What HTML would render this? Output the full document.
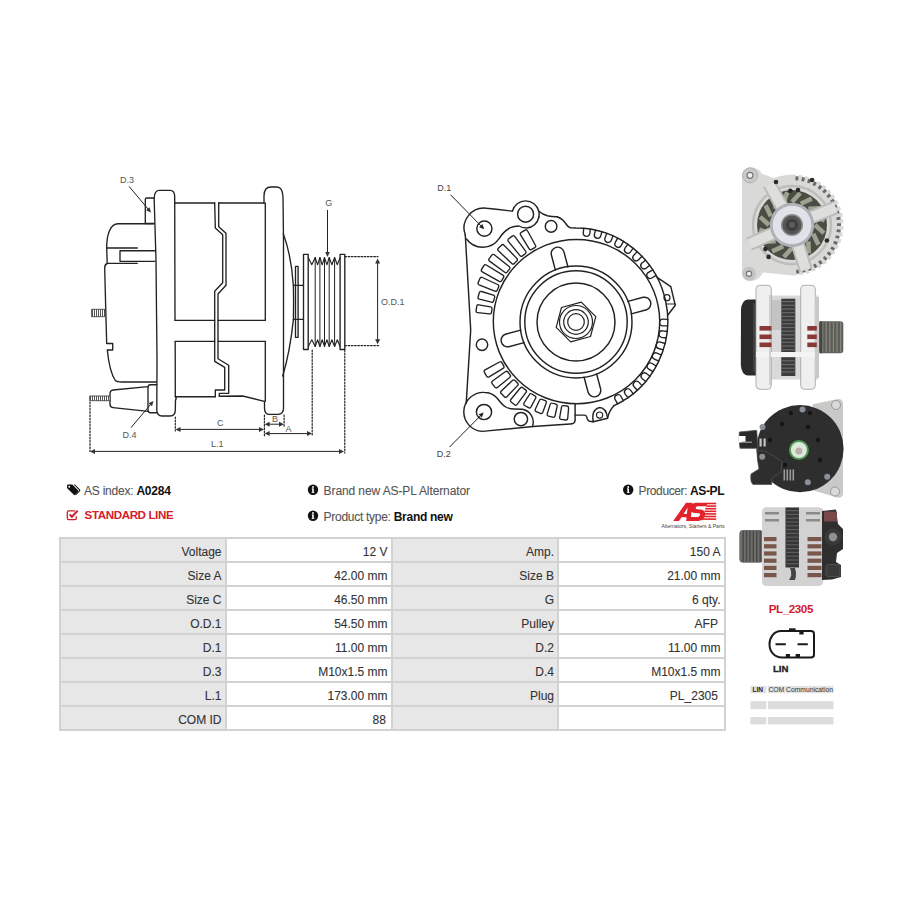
<!DOCTYPE html>
<html><head><meta charset="utf-8"><style>
html,body{margin:0;padding:0;background:#fff;width:900px;height:900px;overflow:hidden;position:relative;font-family:"Liberation Sans",sans-serif}
.c{position:absolute;box-sizing:border-box;text-align:right;padding-right:3px;padding-top:1.5px;font-size:12px;line-height:22px;color:#333;white-space:nowrap;-webkit-text-stroke:0.1px #333}
.t{position:absolute;white-space:nowrap;font-size:12px;line-height:14px;color:#555;letter-spacing:-0.15px;-webkit-text-stroke:0.1px currentColor}
.t b{-webkit-text-stroke:0}
.t b{color:#111}
</style></head><body>
<svg width="900" height="900" viewBox="0 0 900 900" style="position:absolute;left:0;top:0">
<defs><pattern id="hatch" width="2" height="4" patternUnits="userSpaceOnUse"><rect width="2" height="4" fill="#fff"/><rect width="1" height="4" fill="#555"/></pattern></defs>
<g fill="none" stroke="#222" stroke-linecap="round" stroke-linejoin="round" font-family="Liberation Sans, sans-serif">
<path d="M153.5,223.7 L118,223.7 C110,223.7 106.7,235 106.7,247.5 L107.2,263.5 Q104.7,264.5 104.7,268 L105.5,300 L106.7,343.5 L112.7,343.5 L112.7,350 L107.3,350 C108.5,362 111,374 115.3,380.5 Q117,382 122,382 L156.5,382" stroke-width="1.35" />
<path d="M107,248 L137.3,248 M107.3,263.3 L137.3,263.3" stroke-width="1.35" />
<path d="M155,250.7 L120,250.7 L120,261.3 L155,261.3" stroke-width="1.35" />
<path d="M154,223.5 L145.3,223.5 L145.3,199.5 Q145.3,198 147,198 L154.5,198" stroke-width="1.35" />
<path d="M148,386.7 L113,390 Q110,390.5 110,394 L110,404 Q110,407.3 113,407.6 L148,411.3 M156.7,384.7 L150.5,384.7 Q148,384.7 148,387.5 L148,410 Q148,412.7 150.5,412.7 L156.7,412.7" stroke-width="1.35" />
<rect x="90" y="396" width="20" height="4.7" fill="url(#hatch)" stroke="#333" stroke-width="0.8"/>
<rect x="92" y="309.3" width="12.7" height="7.4" fill="url(#hatch)" stroke="#333" stroke-width="0.8"/>
<path d="M159,190.4 L170,190.4 Q174.7,190.4 174.7,197 L175,320.3 M175.2,341.3 L175.3,396.7 Q177,398 175.5,400 L175.3,410 Q175.3,416 170,416 L162,416 Q157,416 156.8,410 L157,360 L156,260 L154.2,200 Q154,190.4 159,190.4" stroke-width="1.35" />
<path d="M174.7,203 L214.7,203 M218.7,203 L264,203" stroke-width="1.35" />
<path d="M175,320.3 L214.7,320.3 M218,320.3 L265.3,320.3" stroke-width="1.35" />
<path d="M175.2,341.3 L214.7,341.3 M218,341.3 L265.3,341.3" stroke-width="1.35" />
<path d="M175.3,396.7 L215.3,396.7 M219.3,396.2 L242.7,396 L264.3,401.3" stroke-width="1.35" />
<path d="M214.7,203 L215.3,228 L222.7,234.7 L222.7,282.7 L214.7,291.3 L214.7,361.3 L224.7,367.3 L224.7,390 L215.3,390 L215.3,396.7" stroke-width="1.35" />
<path d="M218.7,203 L218.7,226.7 L226,233.3 L226,285.3 L218,294 L218,358.7 L228.7,365.3 L228.7,393.3 L219.3,393.3 L219.3,396.2" stroke-width="1.35" />
<path d="M264,203 L264,196 Q264,187 271,187 L277,187 Q282.5,187 283,197 L283.5,240 L283.5,408 Q283.5,414.3 278,414.3 L269,414.3 Q264.5,414.3 264.5,408 L264.5,401.3 M265.3,341.3 L265.3,401.3 M265.3,203 L265.3,320.3" stroke-width="1.35" />
<path d="M283.3,233.7 Q291.5,256 293.4,286 L293.6,302 L293.4,319.4 Q290,352 282.7,376" stroke-width="1.35" />
<path d="M295.5,337.3 L295.5,266.3 L298.1,266.3 L298.1,337.3 Z" stroke-width="1.35" />
<path d="M293.4,285.4 L303.5,285.4 M293.4,319.4 L303.5,319.4" stroke-width="1.35" />
<path d="M303.5,254.3 L308.2,254.3 L308.2,349.5 L303.5,349.5 Z" stroke-width="1.35" />
<path d="M340.1,254.3 L344.8,254.3 L344.8,349.5 L340.1,349.5 Z" stroke-width="1.35" />
<path d="M308.2,257.5 L311.8,264.8 L315.2,257.5 L317.6,264.8 L319.9,257.5 L322.2,264.8 L324.5,257.5 L326.9,264.8 L329.2,257.5 L331.9,264.8 L334.6,257.5 L337.3,264.8 L340.1,257.5" stroke-width="1.1" />
<path d="M308.2,346.5 L311.8,339.8 L315.2,346.5 L317.6,339.8 L319.9,346.5 L322.2,339.8 L324.5,346.5 L326.9,339.8 L329.2,346.5 L331.9,339.8 L334.6,346.5 L337.3,339.8 L340.1,346.5" stroke-width="1.1" />
<path d="M315.2,257.5 L315.2,346.5" stroke-width="1.0" />
<path d="M319.9,257.5 L319.9,346.5" stroke-width="1.0" />
<path d="M324.5,257.5 L324.5,346.5" stroke-width="1.0" />
<path d="M329.2,257.5 L329.2,346.5" stroke-width="1.0" />
<path d="M334.6,257.5 L334.6,346.5" stroke-width="1.0" />
<path d="M90,402 L90,453" stroke-width="1.2" stroke-dasharray="1.6 1.6"/>
<path d="M344.8,350 L344.8,453" stroke-width="1.2" stroke-dasharray="1.6 1.6"/>
<path d="M175.3,417 L175.3,431" stroke-width="1.2" stroke-dasharray="1.6 1.6"/>
<path d="M264.4,415 L264.4,436" stroke-width="1.2" stroke-dasharray="1.6 1.6"/>
<path d="M284.1,415 L284.1,427" stroke-width="1.2" stroke-dasharray="1.6 1.6"/>
<path d="M312.2,350 L312.2,436" stroke-width="1.2" stroke-dasharray="1.6 1.6"/>
<path d="M345,256.7 L378,256.7" stroke-width="1.2" stroke-dasharray="1.6 1.6"/>
<path d="M345,345.6 L380,345.6" stroke-width="1.2" stroke-dasharray="1.6 1.6"/>
<path d="M94.0,451.4 L340.0,451.4" stroke-width="1.0" />
<path d="M90.0,451.4 L95.0,448.9 L95.0,453.9 Z" fill="#333" stroke="none"/>
<path d="M344.0,451.4 L339.0,448.9 L339.0,453.9 Z" fill="#333" stroke="none"/>
<path d="M179.5,429.4 L260.0,429.4" stroke-width="1.0" />
<path d="M175.5,429.4 L180.5,426.9 L180.5,431.9 Z" fill="#333" stroke="none"/>
<path d="M264.0,429.4 L259.0,426.9 L259.0,431.9 Z" fill="#333" stroke="none"/>
<path d="M268.6,424.2 L280.0,424.2" stroke-width="1.0" />
<path d="M264.6,424.2 L269.6,421.7 L269.6,426.7 Z" fill="#333" stroke="none"/>
<path d="M284.0,424.2 L279.0,421.7 L279.0,426.7 Z" fill="#333" stroke="none"/>
<path d="M268.6,433.6 L308.0,433.6" stroke-width="1.0" />
<path d="M264.6,433.6 L269.6,431.1 L269.6,436.1 Z" fill="#333" stroke="none"/>
<path d="M312.0,433.6 L307.0,431.1 L307.0,436.1 Z" fill="#333" stroke="none"/>
<path d="M377.6,262.5 L377.6,340.2" stroke-width="1.0" />
<path d="M377.6,258.5 L375.1,263.5 L380.1,263.5 Z" fill="#333" stroke="none"/>
<path d="M377.6,344.2 L375.1,339.2 L380.1,339.2 Z" fill="#333" stroke="none"/>
<path d="M327.5,210.3 L327.5,252.0" stroke-width="1.0" />
<path d="M327.5,257.0 L325.2,252.0 L329.8,252.0 Z" fill="#333" stroke="none"/>
<path d="M129.3,186.7 L147.8,208.7" stroke-width="1.0" />
<path d="M151.0,212.5 L146.0,210.2 L149.5,207.2 Z" fill="#333" stroke="none"/>
<path d="M131.3,427.3 L150.3,404.8" stroke-width="1.0" />
<path d="M153.5,401.0 L152.0,406.3 L148.5,403.3 Z" fill="#333" stroke="none"/>
<text x="120" y="182.7" font-size="9" fill="#555" stroke="none">D.3</text>
<text x="122.4" y="438" font-size="9" fill="#555" stroke="none">D.4</text>
<text x="325.2" y="206.4" font-size="9" fill="#555" stroke="none">G</text>
<text x="381" y="304.7" font-size="9" fill="#555" stroke="none">O.D.1</text>
<text x="217" y="426.4" font-size="9" fill="#555" stroke="none">C</text>
<text x="272" y="422" font-size="9" fill="#555" stroke="none">B</text>
<text x="285.6" y="432" font-size="9" fill="#555" stroke="none">A</text>
<text x="211" y="447" font-size="9" fill="#555" stroke="none">L.1</text>
<ellipse cx="576.5" cy="321.6" rx="83.2" ry="82.2" stroke-width="1.45"/>
<circle cx="576.0" cy="322.0" r="56.0" stroke-width="1.45"/>
<circle cx="576.0" cy="322.0" r="51.2" stroke-width="1.45"/>
<circle cx="576.0" cy="322.0" r="39.0" stroke-width="1.45"/>
<circle cx="576.0" cy="322.0" r="16.5" stroke-width="1.2"/>
<circle cx="576.0" cy="322.0" r="12.3" stroke-width="1.2"/>
<circle cx="576.0" cy="322.0" r="8.3" stroke-width="1.2"/>
<path d="M595.8,316.7 L590.5,336.5 L570.7,341.8 L556.2,327.3 L561.5,307.5 L581.3,302.2 Z" stroke-width="1.2" />
<path d="M567.9,266.7 L563.8,251.4 A6.5,6.5 0 0 0 551.3,254.8 L555.4,270.1" stroke-width="1.45" />
<path d="M631.3,313.9 L646.6,309.8 A6.5,6.5 0 0 0 643.2,297.3 L627.9,301.4" stroke-width="1.45" />
<path d="M584.1,377.3 L588.2,392.6 A6.5,6.5 0 0 0 600.7,389.2 L596.6,373.9" stroke-width="1.45" />
<path d="M520.7,330.1 L505.4,334.2 A6.5,6.5 0 0 0 508.8,346.7 L524.1,342.6" stroke-width="1.45" />
<path d="M490.5,306.8 L478.7,304.8 Q476.9,304.6 476.7,306.4 L476.1,310.7 Q475.9,312.5 477.7,312.7 L489.5,313.9 Q491.3,314.2 491.5,312.4 L492.0,308.8 Q492.2,307.0 490.5,306.8 Z" stroke-width="1.35" />
<path d="M493.4,295.2 L481.5,291.5 Q479.8,291.0 479.3,292.7 L478.1,297.0 Q477.6,298.7 479.4,299.2 L491.4,302.1 Q493.2,302.6 493.6,300.9 L494.6,297.4 Q495.1,295.7 493.4,295.2 Z" stroke-width="1.35" />
<path d="M497.6,284.5 L482.3,277.5 Q480.6,276.8 479.9,278.4 L478.2,282.5 Q477.5,284.1 479.1,284.8 L494.8,291.1 Q496.5,291.8 497.2,290.2 L498.6,286.9 Q499.3,285.2 497.6,284.5 Z" stroke-width="1.35" />
<path d="M502.9,275.1 L486.3,265.0 Q484.8,264.1 483.9,265.6 L481.6,269.4 Q480.7,271.0 482.3,271.9 L499.2,281.3 Q500.8,282.2 501.7,280.7 L503.5,277.6 Q504.4,276.0 502.9,275.1 Z" stroke-width="1.35" />
<path d="M509.1,266.5 L494.3,254.8 Q492.9,253.7 491.8,255.1 L489.2,258.6 Q488.1,260.0 489.5,261.1 L504.8,272.3 Q506.2,273.4 507.3,271.9 L509.5,269.1 Q510.6,267.6 509.1,266.5 Z" stroke-width="1.35" />
<path d="M516.8,258.4 L504.0,245.2 Q502.8,243.9 501.5,245.2 L498.4,248.3 Q497.1,249.6 498.4,250.8 L511.8,263.5 Q513.0,264.8 514.3,263.5 L516.8,260.9 Q518.1,259.7 516.8,258.4 Z" stroke-width="1.35" />
<path d="M525.6,251.2 L514.7,236.4 Q513.6,235.0 512.2,236.1 L508.7,238.8 Q507.3,239.9 508.4,241.3 L520.0,255.6 Q521.1,257.0 522.5,255.9 L525.3,253.7 Q526.7,252.6 525.6,251.2 Z" stroke-width="1.35" />
<path d="M535.4,245.2 L527.5,230.8 Q526.6,229.2 525.1,230.1 L521.3,232.4 Q519.7,233.3 520.6,234.8 L529.2,248.8 Q530.1,250.3 531.7,249.4 L534.8,247.6 Q536.4,246.7 535.4,245.2 Z" stroke-width="1.35" />
<path d="M499.5,362.0 L485.1,369.9 Q483.5,370.8 484.4,372.3 L486.6,376.2 Q487.5,377.7 489.1,376.8 L503.1,368.3 Q504.6,367.4 503.7,365.8 L501.9,362.7 Q501.0,361.1 499.5,362.0 Z" stroke-width="1.35" />
<path d="M505.3,371.7 L492.5,381.0 Q491.1,382.1 492.2,383.6 L494.8,387.1 Q495.9,388.5 497.4,387.4 L509.7,377.4 Q511.2,376.3 510.1,374.9 L507.9,372.0 Q506.8,370.6 505.3,371.7 Z" stroke-width="1.35" />
<path d="M512.4,380.5 L501.3,391.1 Q500.0,392.4 501.3,393.6 L504.4,396.7 Q505.6,398.0 506.9,396.7 L517.5,385.6 Q518.8,384.3 517.5,383.0 L515.0,380.5 Q513.7,379.2 512.4,380.5 Z" stroke-width="1.35" />
<path d="M520.3,388.0 L510.8,399.5 Q509.7,400.9 511.1,402.0 L514.6,404.7 Q516.0,405.8 517.1,404.4 L526.0,392.4 Q527.1,391.0 525.6,389.9 L522.8,387.7 Q521.4,386.6 520.3,388.0 Z" stroke-width="1.35" />
<path d="M529.4,394.7 L524.0,403.0 Q523.1,404.6 524.7,405.5 L528.5,407.7 Q530.0,408.6 530.9,407.1 L535.6,398.3 Q536.5,396.8 534.9,395.9 L531.8,394.0 Q530.3,393.1 529.4,394.7 Z" stroke-width="1.35" />
<path d="M539.5,400.3 L535.3,409.3 Q534.6,410.9 536.3,411.6 L540.4,413.3 Q542.0,414.0 542.7,412.4 L546.2,403.1 Q546.9,401.4 545.2,400.7 L541.9,399.3 Q540.2,398.6 539.5,400.3 Z" stroke-width="1.35" />
<path d="M550.2,404.4 L547.2,413.9 Q546.8,415.6 548.5,416.1 L552.8,417.2 Q554.5,417.7 555.0,416.0 L557.1,406.3 Q557.6,404.6 555.9,404.1 L552.4,403.2 Q550.7,402.7 550.2,404.4 Z" stroke-width="1.35" />
<path d="M561.5,407.1 L559.7,417.4 Q559.5,419.2 561.3,419.4 L565.7,420.0 Q567.5,420.2 567.7,418.4 L568.6,408.1 Q568.8,406.3 567.0,406.0 L563.5,405.6 Q561.7,405.4 561.5,407.1 Z" stroke-width="1.35" />
<path d="M590.3,229.1 L589.7,233.9 A3.3,3.3 0 0 1 583.2,233.1 L583.8,228.3" stroke-width="1.35" />
<path d="M601.9,231.7 L600.6,236.4 A3.3,3.3 0 0 1 594.3,234.8 L595.5,230.1" stroke-width="1.35" />
<path d="M613.0,235.8 L611.2,240.4 A3.3,3.3 0 0 1 605.0,237.9 L606.8,233.4" stroke-width="1.35" />
<path d="M623.5,241.3 L621.1,245.6 A3.3,3.3 0 0 1 615.3,242.4 L617.7,238.1" stroke-width="1.35" />
<path d="M633.2,248.2 L630.3,252.1 A3.3,3.3 0 0 1 625.0,248.2 L627.9,244.2" stroke-width="1.35" />
<path d="M642.0,256.2 L638.6,259.8 A3.3,3.3 0 0 1 633.8,255.2 L637.2,251.6" stroke-width="1.35" />
<path d="M649.6,265.3 L645.8,268.4 A3.3,3.3 0 0 1 641.7,263.3 L645.5,260.2" stroke-width="1.35" />
<path d="M656.1,275.4 L651.9,278.0 A3.3,3.3 0 0 1 648.5,272.3 L652.7,269.8" stroke-width="1.35" />
<path d="M667.7,325.9 L662.8,325.8 A3.3,3.3 0 0 1 662.9,319.2 L667.8,319.3" stroke-width="1.35" />
<path d="M666.3,338.0 L661.5,337.3 A3.3,3.3 0 0 1 662.4,330.8 L667.3,331.5" stroke-width="1.35" />
<path d="M663.3,349.8 L658.6,348.5 A3.3,3.3 0 0 1 660.4,342.1 L665.2,343.5" stroke-width="1.35" />
<path d="M658.9,361.1 L654.4,359.2 A3.3,3.3 0 0 1 657.0,353.1 L661.5,355.1" stroke-width="1.35" />
<path d="M653.0,371.7 L648.8,369.2 A3.3,3.3 0 0 1 652.2,363.5 L656.4,366.1" stroke-width="1.35" />
<path d="M645.8,381.5 L642.0,378.4 A3.3,3.3 0 0 1 646.1,373.3 L649.9,376.3" stroke-width="1.35" />
<path d="M637.4,390.2 L634.0,386.7 A3.3,3.3 0 0 1 638.7,382.1 L642.1,385.6" stroke-width="1.35" />
<path d="M628.0,397.7 L625.0,393.8 A3.3,3.3 0 0 1 630.3,389.9 L633.3,393.8" stroke-width="1.35" />
<path d="M617.6,403.9 L615.2,399.7 A3.3,3.3 0 0 1 621.0,396.5 L623.4,400.7" stroke-width="1.35" />
<path d="M557.1,216.7 Q563,219 566,224 Q568,227 570.4,227.8 L576.0,228.0 A91.8,93.0 0 0 1 614.1,405.6" stroke-width="1.45" />
<path d="M657.1,277.3 L670.8,286.7 L675.3,305.3 L667.7,315.3" stroke-width="1.45" />
<path d="M666.7,304 L675.3,304" stroke-width="1.2" />
<circle cx="667.0" cy="297.7" r="3.0" stroke-width="1.2"/>
<path d="M614.1,405.6 Q609,411 607.6,418.2 L593.3,421.8 L589.3,421.3 Q587,420 586.7,417 Q586.5,415.1 584,415.1 L575.1,415.1" stroke-width="1.45" />
<path d="M593.3,421.8 Q591,410 599.1,407.6 Q606,407.5 607.6,418" stroke-width="1.45" />
<circle cx="599.6" cy="415.1" r="3.1" stroke-width="1.2"/>
<path d="M575.1,404 L575.1,420.9 Q574.5,424 570.2,424 L533,426.5 L482.2,431.4" stroke-width="1.45" />
<path d="M482.2,431.4 A19.4,19.4 0 0 1 484.5,392.4 Q492,392.4 497,398 Q501.5,404 505,406.5 Q508,408.8 514,409 L522.2,409.3 A13,13 0 0 1 532.5,426.4" stroke-width="1.45" />
<circle cx="484.0" cy="412.0" r="7.6" stroke-width="1.45"/>
<circle cx="520.9" cy="419.1" r="6.7" stroke-width="1.45"/>
<path d="M466.2,403.6 L470.7,330 L465.3,235" stroke-width="1.45" />
<circle cx="482.0" cy="344.7" r="5.7" stroke-width="1.45"/>
<path d="M465.3,235 A20,20 0 0 1 486.7,208.3 Q500,209.5 512.4,211.2 A13.6,13.6 0 0 1 538.8,211.2 Q543,214.5 547.3,215.8 Q552,216.8 557.1,216.7" stroke-width="1.45" />
<path d="M538.8,211.2 A13.6,13.6 0 0 1 538.9,217" stroke-width="1.45" />
<path d="M466.5,239 A20,20 0 0 0 499.1,238.6 Q503,232 509.8,227.9 Q514,226 518.9,226 Q522,228 527,228 A13.6,13.6 0 0 0 538.9,217" stroke-width="1.45" />
<circle cx="484.4" cy="228.6" r="7.6" stroke-width="1.45"/>
<circle cx="525.6" cy="214.2" r="8.0" stroke-width="1.45"/>
<circle cx="551.1" cy="226.4" r="5.8" stroke-width="1.45"/>
<path d="M450.8,195.0 L480.7,225.6" stroke-width="1.0" />
<path d="M484.2,229.2 L479.1,227.2 L482.4,224.0 Z" fill="#222" stroke="none"/>
<path d="M449.9,446.7 L480.2,416.0" stroke-width="1.0" />
<path d="M483.7,412.4 L481.8,417.6 L478.6,414.3 Z" fill="#222" stroke="none"/>
<text x="437.3" y="190.8" font-size="9" fill="#444" stroke="none">D.1</text>
<text x="436.7" y="456.8" font-size="9" fill="#444" stroke="none">D.2</text>
</g>
</svg>
<svg width="900" height="900" viewBox="0 0 900 900" style="position:absolute;left:0;top:0"><g>
<path d="M742,181 Q742,168 751,167.5 Q759,167.5 762,174 L774,178 Q784,174.5 793,174.5 A50.5,50.5 0 0 1 843.5,225 A50.5,50.5 0 0 1 793,275.5 L763,272.5 Q759,281 750,281 Q742,281 742,270 Z" fill="#d9d9d7"/>
<rect x="796.0" y="173.3" width="2.6" height="3" fill="#fff" transform="rotate(6.0 797.3 174.8)"/>
<rect x="795.5" y="176.3" width="2.8" height="4" fill="#6a6a68" transform="rotate(6.0 796.9 178.3)"/>
<rect x="802.6" y="174.4" width="2.6" height="3" fill="#fff" transform="rotate(13.6 803.9 175.9)"/>
<rect x="801.7" y="177.3" width="2.8" height="4" fill="#6a6a68" transform="rotate(13.6 803.1 179.3)"/>
<rect x="809.0" y="176.4" width="2.6" height="3" fill="#fff" transform="rotate(21.2 810.3 177.9)"/>
<rect x="807.6" y="179.2" width="2.8" height="4" fill="#6a6a68" transform="rotate(21.2 809.0 181.2)"/>
<rect x="815.0" y="179.2" width="2.6" height="3" fill="#fff" transform="rotate(28.8 816.3 180.7)"/>
<rect x="813.2" y="181.8" width="2.8" height="4" fill="#6a6a68" transform="rotate(28.8 814.6 183.8)"/>
<rect x="820.7" y="182.9" width="2.6" height="3" fill="#fff" transform="rotate(36.4 822.0 184.4)"/>
<rect x="818.5" y="185.2" width="2.8" height="4" fill="#6a6a68" transform="rotate(36.4 819.9 187.2)"/>
<rect x="825.8" y="187.2" width="2.6" height="3" fill="#fff" transform="rotate(44.0 827.1 188.7)"/>
<rect x="823.2" y="189.2" width="2.8" height="4" fill="#6a6a68" transform="rotate(44.0 824.6 191.2)"/>
<rect x="830.3" y="192.1" width="2.6" height="3" fill="#fff" transform="rotate(51.6 831.6 193.6)"/>
<rect x="827.4" y="193.8" width="2.8" height="4" fill="#6a6a68" transform="rotate(51.6 828.8 195.8)"/>
<rect x="834.1" y="197.6" width="2.6" height="3" fill="#fff" transform="rotate(59.2 835.4 199.1)"/>
<rect x="831.0" y="198.9" width="2.8" height="4" fill="#6a6a68" transform="rotate(59.2 832.4 200.9)"/>
<rect x="837.1" y="203.6" width="2.6" height="3" fill="#fff" transform="rotate(66.8 838.4 205.1)"/>
<rect x="833.8" y="204.5" width="2.8" height="4" fill="#6a6a68" transform="rotate(66.8 835.2 206.5)"/>
<rect x="839.3" y="209.9" width="2.6" height="3" fill="#fff" transform="rotate(74.4 840.6 211.4)"/>
<rect x="835.9" y="210.4" width="2.8" height="4" fill="#6a6a68" transform="rotate(74.4 837.3 212.4)"/>
<rect x="840.7" y="216.5" width="2.6" height="3" fill="#fff" transform="rotate(82.0 842.0 218.0)"/>
<rect x="837.1" y="216.5" width="2.8" height="4" fill="#6a6a68" transform="rotate(82.0 838.5 218.5)"/>
<rect x="841.2" y="223.1" width="2.6" height="3" fill="#fff" transform="rotate(89.6 842.5 224.6)"/>
<rect x="837.6" y="222.7" width="2.8" height="4" fill="#6a6a68" transform="rotate(89.6 839.0 224.7)"/>
<rect x="840.8" y="229.8" width="2.6" height="3" fill="#fff" transform="rotate(97.2 842.1 231.3)"/>
<rect x="837.2" y="228.9" width="2.8" height="4" fill="#6a6a68" transform="rotate(97.2 838.6 230.9)"/>
<rect x="839.5" y="236.4" width="2.6" height="3" fill="#fff" transform="rotate(104.8 840.8 237.9)"/>
<rect x="836.0" y="235.0" width="2.8" height="4" fill="#6a6a68" transform="rotate(104.8 837.4 237.0)"/>
<rect x="837.4" y="242.7" width="2.6" height="3" fill="#fff" transform="rotate(112.4 838.7 244.2)"/>
<rect x="834.1" y="240.9" width="2.8" height="4" fill="#6a6a68" transform="rotate(112.4 835.5 242.9)"/>
<rect x="834.4" y="248.8" width="2.6" height="3" fill="#fff" transform="rotate(120.0 835.7 250.2)"/>
<rect x="831.3" y="246.5" width="2.8" height="4" fill="#6a6a68" transform="rotate(120.0 832.7 248.5)"/>
<rect x="830.7" y="254.3" width="2.6" height="3" fill="#fff" transform="rotate(127.6 832.0 255.8)"/>
<rect x="827.8" y="251.7" width="2.8" height="4" fill="#6a6a68" transform="rotate(127.6 829.2 253.7)"/>
<rect x="826.3" y="259.3" width="2.6" height="3" fill="#fff" transform="rotate(135.2 827.6 260.8)"/>
<rect x="823.7" y="256.3" width="2.8" height="4" fill="#6a6a68" transform="rotate(135.2 825.1 258.3)"/>
<rect x="821.2" y="263.7" width="2.6" height="3" fill="#fff" transform="rotate(142.8 822.5 265.2)"/>
<rect x="819.0" y="260.4" width="2.8" height="4" fill="#6a6a68" transform="rotate(142.8 820.4 262.4)"/>
<rect x="815.6" y="267.4" width="2.6" height="3" fill="#fff" transform="rotate(150.4 816.9 268.9)"/>
<rect x="813.8" y="263.9" width="2.8" height="4" fill="#6a6a68" transform="rotate(150.4 815.2 265.9)"/>
<rect x="809.6" y="270.3" width="2.6" height="3" fill="#fff" transform="rotate(158.0 810.9 271.8)"/>
<rect x="808.2" y="266.6" width="2.8" height="4" fill="#6a6a68" transform="rotate(158.0 809.6 268.6)"/>
<rect x="803.3" y="272.4" width="2.6" height="3" fill="#fff" transform="rotate(165.6 804.6 273.9)"/>
<rect x="802.3" y="268.5" width="2.8" height="4" fill="#6a6a68" transform="rotate(165.6 803.7 270.5)"/>
<rect x="796.7" y="273.6" width="2.6" height="3" fill="#fff" transform="rotate(173.2 798.0 275.1)"/>
<rect x="796.2" y="269.7" width="2.8" height="4" fill="#6a6a68" transform="rotate(173.2 797.6 271.7)"/>
<circle cx="792.0" cy="225.0" r="39" fill="none" stroke="#bdbdbb" stroke-width="2.5"/>
<circle cx="792.0" cy="225.0" r="35" fill="#4a4d44"/>
<line x1="815.0" y1="225.0" x2="824.0" y2="233.2" stroke="#9ea290" stroke-width="4.5"/>
<line x1="813.2" y1="233.8" x2="818.4" y2="244.8" stroke="#9ea290" stroke-width="4.5"/>
<line x1="808.3" y1="241.3" x2="808.8" y2="253.4" stroke="#9ea290" stroke-width="4.5"/>
<line x1="800.8" y1="246.2" x2="796.7" y2="257.7" stroke="#9ea290" stroke-width="4.5"/>
<line x1="792.0" y1="248.0" x2="783.8" y2="257.0" stroke="#9ea290" stroke-width="4.5"/>
<line x1="783.2" y1="246.2" x2="772.2" y2="251.4" stroke="#9ea290" stroke-width="4.5"/>
<line x1="775.7" y1="241.3" x2="763.6" y2="241.8" stroke="#9ea290" stroke-width="4.5"/>
<line x1="770.8" y1="233.8" x2="759.3" y2="229.7" stroke="#9ea290" stroke-width="4.5"/>
<line x1="769.0" y1="225.0" x2="760.0" y2="216.8" stroke="#9ea290" stroke-width="4.5"/>
<line x1="770.8" y1="216.2" x2="765.6" y2="205.2" stroke="#9ea290" stroke-width="4.5"/>
<line x1="775.7" y1="208.7" x2="775.2" y2="196.6" stroke="#9ea290" stroke-width="4.5"/>
<line x1="783.2" y1="203.8" x2="787.3" y2="192.3" stroke="#9ea290" stroke-width="4.5"/>
<line x1="792.0" y1="202.0" x2="800.2" y2="193.0" stroke="#9ea290" stroke-width="4.5"/>
<line x1="800.8" y1="203.8" x2="811.8" y2="198.6" stroke="#9ea290" stroke-width="4.5"/>
<line x1="808.3" y1="208.7" x2="820.4" y2="208.2" stroke="#9ea290" stroke-width="4.5"/>
<line x1="813.2" y1="216.2" x2="824.7" y2="220.3" stroke="#9ea290" stroke-width="4.5"/>
<line x1="783.3" y1="209.3" x2="769.2" y2="183.9" stroke="#bcbcba" stroke-width="14"/>
<line x1="783.3" y1="209.3" x2="769.2" y2="183.9" stroke="#dededc" stroke-width="10"/>
<line x1="808.7" y1="218.3" x2="835.6" y2="207.4" stroke="#bcbcba" stroke-width="14"/>
<line x1="808.7" y1="218.3" x2="835.6" y2="207.4" stroke="#dededc" stroke-width="10"/>
<line x1="775.6" y1="232.3" x2="749.1" y2="244.1" stroke="#bcbcba" stroke-width="14"/>
<line x1="775.6" y1="232.3" x2="749.1" y2="244.1" stroke="#dededc" stroke-width="10"/>
<line x1="797.3" y1="242.2" x2="805.7" y2="269.9" stroke="#bcbcba" stroke-width="14"/>
<line x1="797.3" y1="242.2" x2="805.7" y2="269.9" stroke="#dededc" stroke-width="10"/>
<circle cx="790.3" cy="190.8" r="2.3" fill="#2a2a2a"/>
<circle cx="798" cy="190" r="2.3" fill="#2a2a2a"/>
<circle cx="826.9" cy="240.5" r="2.3" fill="#2a2a2a"/>
<circle cx="765.4" cy="249.1" r="2.3" fill="#2a2a2a"/>
<circle cx="768.6" cy="256.9" r="2.3" fill="#2a2a2a"/>
<circle cx="812" cy="180" r="2.3" fill="#2a2a2a"/>
<circle cx="776" cy="182" r="2.3" fill="#2a2a2a"/>
<circle cx="750" cy="175.3" r="7.5" fill="#cacaca" stroke="#b0b0b0" stroke-width="1"/>
<circle cx="750" cy="175.3" r="3" fill="#eee" stroke="#777" stroke-width="1.2"/>
<circle cx="749" cy="273.8" r="7" fill="#c4c4c4"/>
<circle cx="749" cy="273.8" r="2.6" fill="#eee" stroke="#777" stroke-width="1.2"/>
<circle cx="792.0" cy="225.0" r="22.2" fill="#aeb2b6"/>
<circle cx="792.0" cy="225.0" r="19.3" fill="#dfe2e8"/>
<circle cx="792.0" cy="225.0" r="11" fill="#8a8a8a"/>
<circle cx="792.0" cy="225.0" r="9.5" fill="#555"/>
<circle cx="792.0" cy="225.0" r="6" fill="#3e3e3e"/>
<circle cx="792.0" cy="225.0" r="3" fill="#5c5c5c"/>
</g>
<g>
<path d="M757,299.5 L748,299.5 Q741.5,300 741,310 L740.8,365 Q741.5,375 748,375.5 L757,375.5 Z" fill="#2b2b2b"/>
<path d="M754,303 L754,372" stroke="#4a4a4a" stroke-width="1.5"/>
<rect x="770" y="295.5" width="48" height="84" fill="#d9d9d9"/>
<rect x="771" y="300" width="10" height="30" fill="#c4c4c4"/>
<rect x="781.3" y="298.7" width="14" height="77.3" fill="#3b3b3b"/>
<rect x="781.3" y="301.0" width="14" height="1.2" fill="#6a6a6a"/>
<rect x="781.3" y="304.7" width="14" height="1.2" fill="#6a6a6a"/>
<rect x="781.3" y="308.4" width="14" height="1.2" fill="#6a6a6a"/>
<rect x="781.3" y="312.1" width="14" height="1.2" fill="#6a6a6a"/>
<rect x="781.3" y="315.8" width="14" height="1.2" fill="#6a6a6a"/>
<rect x="781.3" y="319.5" width="14" height="1.2" fill="#6a6a6a"/>
<rect x="781.3" y="323.2" width="14" height="1.2" fill="#6a6a6a"/>
<rect x="781.3" y="326.9" width="14" height="1.2" fill="#6a6a6a"/>
<rect x="781.3" y="330.6" width="14" height="1.2" fill="#6a6a6a"/>
<rect x="781.3" y="334.3" width="14" height="1.2" fill="#6a6a6a"/>
<rect x="781.3" y="338.0" width="14" height="1.2" fill="#6a6a6a"/>
<rect x="781.3" y="341.7" width="14" height="1.2" fill="#6a6a6a"/>
<rect x="781.3" y="345.4" width="14" height="1.2" fill="#6a6a6a"/>
<rect x="781.3" y="349.1" width="14" height="1.2" fill="#6a6a6a"/>
<rect x="781.3" y="352.8" width="14" height="1.2" fill="#6a6a6a"/>
<rect x="781.3" y="356.5" width="14" height="1.2" fill="#6a6a6a"/>
<rect x="781.3" y="360.2" width="14" height="1.2" fill="#6a6a6a"/>
<rect x="781.3" y="363.9" width="14" height="1.2" fill="#6a6a6a"/>
<rect x="781.3" y="367.6" width="14" height="1.2" fill="#6a6a6a"/>
<rect x="781.3" y="371.3" width="14" height="1.2" fill="#6a6a6a"/>
<rect x="781.3" y="354" width="14" height="2.5" fill="#e8e8e8"/>
<path d="M756,289 Q756,285.3 760,285.3 L768,285.3 Q771.3,285.3 771.3,289 L771.3,385.5 Q771.3,389.3 768,389.3 L760,389.3 Q756,389.3 756,385.5 Z" fill="#efefef" stroke="#a8a8a8" stroke-width="0.9"/>
<path d="M800.7,289 Q800.7,285.3 804,285.3 L812,285.3 Q815.3,285.3 815.3,289 L815.3,385.5 Q815.3,389.3 812,389.3 L804,389.3 Q800.7,389.3 800.7,385.5 Z" fill="#efefef" stroke="#a8a8a8" stroke-width="0.9"/>
<rect x="756" y="352" width="60" height="5" fill="#f4f4f4"/>
<rect x="769" y="295" width="2" height="90" fill="#cfcfcf"/>
<rect x="815" y="297" width="4" height="81" fill="#c9c9c9"/>
<rect x="759.5" y="326" width="12" height="4.6" fill="#8a3a36"/>
<rect x="807.3" y="326" width="9.5" height="4.6" fill="#8a3a36"/>
<rect x="759.5" y="334.5" width="12" height="4.6" fill="#8a3a36"/>
<rect x="807.3" y="334.5" width="9.5" height="4.6" fill="#8a3a36"/>
<rect x="759.5" y="342.5" width="12" height="4.6" fill="#8a3a36"/>
<rect x="807.3" y="342.5" width="9.5" height="4.6" fill="#8a3a36"/>
<rect x="819.3" y="321.3" width="24" height="32" rx="3" fill="#5c5d57"/>
<rect x="822.0" y="322" width="1.3" height="30.5" fill="#85867d"/>
<rect x="825.6" y="322" width="1.3" height="30.5" fill="#85867d"/>
<rect x="829.2" y="322" width="1.3" height="30.5" fill="#85867d"/>
<rect x="832.8" y="322" width="1.3" height="30.5" fill="#85867d"/>
<rect x="836.4" y="322" width="1.3" height="30.5" fill="#85867d"/>
<rect x="840.0" y="322" width="1.3" height="30.5" fill="#85867d"/>
<rect x="819.3" y="321.3" width="3" height="32" fill="#45463f"/>
</g>
<g>
<path d="M812.7,404.3 L838,399 Q843,399 843,404 L843,493 Q843,498 838,497.7 L812,490 Z" fill="#c9c9c7"/>
<circle cx="836" cy="405" r="4.5" fill="#dadada" stroke="#999" stroke-width="1"/>
<circle cx="835" cy="491.5" r="4.5" fill="#dadada" stroke="#999" stroke-width="1"/>
<circle cx="800" cy="448.7" r="43.6" fill="#2e2e2e"/>
<path d="M739.3,432 L756.7,430.3 L758,448.3 L740,448.3 Q738.5,440 739.3,432 Z" fill="#2a2a2a" stroke="#555" stroke-width="0.8"/>
<path d="M757,450 L766,451.5 L782,461.5 L781,472 L772,478 L771.7,484.4 L753,484.4 Q750,482 751,474 L759,469 L757.5,460 Z" fill="#2e2e2e" stroke="#505050" stroke-width="0.8"/>
<circle cx="762.5" cy="427" r="3" fill="#8a9098"/>
<circle cx="802.5" cy="409.5" r="3" fill="#8a9098"/>
<circle cx="827.2" cy="476.7" r="3" fill="#8a9098"/>
<circle cx="807.8" cy="482.2" r="3" fill="#8a9098"/>
<circle cx="762.2" cy="456.7" r="3" fill="#8a9098"/>
<circle cx="791" cy="413" r="2.2" fill="#151515"/>
<circle cx="810" cy="413" r="2.2" fill="#151515"/>
<circle cx="782" cy="424" r="2.2" fill="#151515"/>
<circle cx="808" cy="427" r="2.2" fill="#151515"/>
<circle cx="818" cy="440" r="2.2" fill="#151515"/>
<circle cx="820" cy="460" r="2.2" fill="#151515"/>
<circle cx="785" cy="465" r="2.2" fill="#151515"/>
<circle cx="770" cy="440" r="2.2" fill="#151515"/>
<circle cx="798.9" cy="450" r="10" fill="#4c9a52"/>
<circle cx="798.9" cy="450" r="8" fill="#dfe8dc"/>
<circle cx="798.9" cy="451" r="3.5" fill="#b9b0a8"/>
<rect x="783.5" y="469.5" width="1.6" height="11" fill="#9a9a9a"/>
<rect x="786.5" y="469.5" width="1.6" height="11" fill="#9a9a9a"/>
<rect x="789.5" y="469.5" width="1.6" height="11" fill="#9a9a9a"/>
<rect x="792.5" y="469.5" width="1.6" height="11" fill="#9a9a9a"/>
<rect x="759.5" y="438.5" width="2.2" height="8" fill="#c4c4c4"/><rect x="763.5" y="438.5" width="2.2" height="8" fill="#c4c4c4"/>
<rect x="738.5" y="436" width="7" height="6.5" fill="#fff"/><rect x="742" y="441.5" width="10" height="1.5" fill="#888"/>
</g>
<g>
<rect x="739.3" y="530" width="24" height="32.7" rx="4" fill="#6d6e6b"/>
<rect x="742.5" y="531" width="1.3" height="30.7" fill="#454643"/>
<rect x="745.9" y="531" width="1.3" height="30.7" fill="#454643"/>
<rect x="749.3" y="531" width="1.3" height="30.7" fill="#454643"/>
<rect x="752.7" y="531" width="1.3" height="30.7" fill="#454643"/>
<rect x="756.1" y="531" width="1.3" height="30.7" fill="#454643"/>
<rect x="759.5" y="531" width="1.3" height="30.7" fill="#454643"/>
<path d="M762,512 Q762,507.3 767,507.3 L818,507.3 Q823.3,507.3 823.3,512 L823.3,581 Q823.3,586 818,586 L767,586 Q762,586 762,581 Z" fill="#d2d2d2"/>
<rect x="785.5" y="507.5" width="13.5" height="60" fill="#363636"/>
<path d="M790,568 Q793,575 789,580 L795,580 Q797,574 795,568 Z" fill="#444"/>
<rect x="785.5" y="510.0" width="13.5" height="1.2" fill="#5e5e5e"/>
<rect x="785.5" y="513.8" width="13.5" height="1.2" fill="#5e5e5e"/>
<rect x="785.5" y="517.6" width="13.5" height="1.2" fill="#5e5e5e"/>
<rect x="785.5" y="521.4" width="13.5" height="1.2" fill="#5e5e5e"/>
<rect x="785.5" y="525.2" width="13.5" height="1.2" fill="#5e5e5e"/>
<rect x="785.5" y="529.0" width="13.5" height="1.2" fill="#5e5e5e"/>
<rect x="785.5" y="532.8" width="13.5" height="1.2" fill="#5e5e5e"/>
<rect x="785.5" y="536.6" width="13.5" height="1.2" fill="#5e5e5e"/>
<rect x="785.5" y="540.4" width="13.5" height="1.2" fill="#5e5e5e"/>
<rect x="785.5" y="544.2" width="13.5" height="1.2" fill="#5e5e5e"/>
<rect x="785.5" y="548.0" width="13.5" height="1.2" fill="#5e5e5e"/>
<rect x="785.5" y="551.8" width="13.5" height="1.2" fill="#5e5e5e"/>
<rect x="785.5" y="555.6" width="13.5" height="1.2" fill="#5e5e5e"/>
<rect x="785.5" y="559.4" width="13.5" height="1.2" fill="#5e5e5e"/>
<rect x="785.5" y="563.2" width="13.5" height="1.2" fill="#5e5e5e"/>
<rect x="764" y="537.0" width="12.5" height="4.2" fill="#7a564c"/>
<rect x="807.5" y="537.0" width="14" height="4.2" fill="#7a564c"/>
<rect x="764" y="544.2" width="12.5" height="4.2" fill="#7a564c"/>
<rect x="807.5" y="544.2" width="14" height="4.2" fill="#7a564c"/>
<rect x="764" y="551.4" width="12.5" height="4.2" fill="#7a564c"/>
<rect x="807.5" y="551.4" width="14" height="4.2" fill="#7a564c"/>
<rect x="764" y="558.6" width="12.5" height="4.2" fill="#7a564c"/>
<rect x="807.5" y="558.6" width="14" height="4.2" fill="#7a564c"/>
<rect x="764" y="565.8" width="12.5" height="4.2" fill="#7a564c"/>
<rect x="807.5" y="565.8" width="14" height="4.2" fill="#7a564c"/>
<rect x="764" y="573.0" width="12.5" height="4.2" fill="#7a564c"/>
<rect x="807.5" y="573.0" width="14" height="4.2" fill="#7a564c"/>
<rect x="765" y="512" width="14" height="2.5" fill="#8a8a8a"/><rect x="806" y="512" width="14" height="2.5" fill="#8a8a8a"/>
<rect x="765" y="519" width="14" height="2.5" fill="#8a8a8a"/><rect x="806" y="519" width="14" height="2.5" fill="#8a8a8a"/>
<path d="M822,511 L836,509.6 L838,524 L843,529 L843,549 L837,553 L836,562 L841,565 L841,577 L832,579.5 L822,580 Z" fill="#2f2f2f"/>
<rect x="824" y="511.5" width="13" height="10" fill="#7a4a4a"/>
<circle cx="833" cy="537" r="8.5" fill="#3a3a3a"/>
<circle cx="833" cy="537" r="4.2" fill="#8f9090"/>
<rect x="826" y="564.5" width="14" height="12" rx="2" fill="#3a3a3a" stroke="#555" stroke-width="0.8"/>
</g></svg>

<svg width="900" height="900" viewBox="0 0 900 900" style="position:absolute;left:0;top:0">
<!-- tags icon -->
<g fill="#111">
<path d="M67,485.7 Q67,484.5 68.2,484.5 L72.3,484.5 L78.2,490.4 Q78.9,491.1 78.2,491.8 L75.2,494.8 Q74.5,495.5 73.8,494.8 L67.7,488.7 Q67,488 67,487.3 Z"/>
<path d="M73.6,484.5 L74.9,484.5 L80,489.6 Q80.8,490.4 80,491.2 L75.9,495.3 L75.2,494.7 L79,490.9 Q79.5,490.4 79,489.9 Z"/>
</g>
<circle cx="69.2" cy="486.7" r="0.95" fill="#fff"/>
<!-- check square -->
<g fill="none" stroke="#c8202c" stroke-width="1.3">
<path d="M75,510.9 L68.6,510.9 Q67.3,510.9 67.3,512.2 L67.3,518.3 Q67.3,519.6 68.6,519.6 L75,519.6 Q76.3,519.6 76.3,518.3 L76.3,516.3"/>
<path d="M69.6,514.4 L71.9,516.7 L77.6,510.8" stroke-width="2"/>
</g>
<!-- info circles -->
<g>
<circle cx="313" cy="489.8" r="5.2" fill="#111"/><rect x="312.2" y="488.6" width="1.6" height="3.8" fill="#fff"/><circle cx="313" cy="487" r="0.95" fill="#fff"/><rect x="311.6" y="492" width="2.8" height="0.8" fill="#fff"/><rect x="311.8" y="488.4" width="1.4" height="0.8" fill="#fff"/>
<circle cx="313" cy="515.8" r="5.2" fill="#111"/><rect x="312.2" y="514.6" width="1.6" height="3.8" fill="#fff"/><circle cx="313" cy="513" r="0.95" fill="#fff"/><rect x="311.6" y="518" width="2.8" height="0.8" fill="#fff"/><rect x="311.8" y="514.4" width="1.4" height="0.8" fill="#fff"/>
<circle cx="628.2" cy="489.8" r="5.2" fill="#111"/><rect x="627.4" y="488.6" width="1.6" height="3.8" fill="#fff"/><circle cx="628.2" cy="487" r="0.95" fill="#fff"/><rect x="626.8" y="492" width="2.8" height="0.8" fill="#fff"/><rect x="627" y="488.4" width="1.4" height="0.8" fill="#fff"/>
</g>
<!-- AS logo -->
<g fill="#e3232b">
<path d="M673.2,520.9 L686,502.7 L692.5,502.7 L690.5,520.9 L686.2,520.9 L686.6,517.2 L681.5,517.2 L679,520.9 Z M683.6,514 L686.9,514 L687.6,507.5 Z"/>
<path d="M707.4,502.7 L696,502.7 Q690.5,503 690,508.5 Q690,512.5 695,513 L699,513.2 Q700.5,513.5 700,515 Q699.5,516.8 697.5,517 L689.5,517 L688.6,520.9 L698.5,520.9 Q704.5,520.5 705,514.5 Q705.5,510 700.5,509.5 L697,509.3 Q695.3,509 695.8,507.5 Q696.3,506.3 698,506.2 L706.5,506.2 Z"/>
</g>
<g fill="#e3232b">
<rect x="707" y="502.7" width="9.2" height="1.6"/><rect x="706.3" y="505.3" width="9.9" height="1.6"/><rect x="705.2" y="507.9" width="11" height="1.6"/>
<rect x="704.5" y="510.5" width="11.7" height="1.6"/><rect x="703.8" y="513.1" width="12.4" height="1.6"/><rect x="702.5" y="515.7" width="13.7" height="1.6"/><rect x="701.2" y="518.3" width="15" height="1.6"/>
</g>
<text x="661.5" y="527.8" font-family="Liberation Sans" font-size="4.6" fill="#444" textLength="63" lengthAdjust="spacingAndGlyphs">Alternators, Starters &amp; Parts</text>
<!-- plug icon -->
<g fill="none" stroke="#1a1a1a" stroke-width="2">
<path d="M811,631 L781,631 C773.5,631 769.5,638 769.5,644.2 C769.5,651 774,657.5 782,657.5 L811,657.5 Q814,657.5 814,654.5 L814,634 Q814,631 811,631 Z"/>
<path d="M775.5,644.3 L785.8,644.3 M797.5,644.3 L807.8,644.3"/>
</g>
<g fill="#1a1a1a">
<rect x="789" y="628.3" width="6.6" height="3.5"/><rect x="799.3" y="631" width="4.3" height="3.5"/>
<rect x="785.8" y="654" width="4.2" height="3.8"/><rect x="795.6" y="654" width="4.4" height="3.8"/>
</g>
<text x="773" y="671.8" font-family="Liberation Sans" font-weight="bold" font-size="9.6" fill="#222" stroke="#222" stroke-width="0.35">LIN</text>
<!-- mini table -->
<rect x="750.4" y="685.9" width="15.9" height="7.3" fill="#e2e2e2"/>
<rect x="767.9" y="685.9" width="65.6" height="7.3" fill="#e2e2e2"/>
<text x="752.5" y="692" font-family="Liberation Sans" font-weight="bold" font-size="6.5" fill="#222">LIN</text>
<text x="768.5" y="692" font-family="Liberation Sans" font-size="6.5" fill="#333" textLength="64.5" lengthAdjust="spacingAndGlyphs">COM Communication</text>
<rect x="750.4" y="701.2" width="15.9" height="7.9" fill="#dcdcdc"/><rect x="767.9" y="701.2" width="65.6" height="7.9" fill="#dcdcdc"/>
<rect x="750.4" y="717" width="15.9" height="7.4" fill="#dcdcdc"/><rect x="767.9" y="717" width="65.6" height="7.4" fill="#dcdcdc"/>
</svg>

<div style="position:absolute;left:58.5px;top:537px;width:667.0px;height:194px;background:#d2d2d2"></div>
<div class="c" style="left:60.5px;top:539px;width:164.0px;height:22px;background:#e7e7e7;padding-right:3px"><span>Voltage</span></div>
<div class="c" style="left:226.5px;top:539px;width:164.0px;height:22px;background:#fff;padding-right:3px"><span>12 V</span></div>
<div class="c" style="left:392.5px;top:539px;width:164.5px;height:22px;background:#e7e7e7;padding-right:3px"><span>Amp.</span></div>
<div class="c" style="left:559px;top:539px;width:164.5px;height:22px;background:#fff;padding-right:3px"><span>150 A</span></div>
<div class="c" style="left:60.5px;top:563px;width:164.0px;height:22px;background:#e7e7e7;padding-right:3px"><span>Size A</span></div>
<div class="c" style="left:226.5px;top:563px;width:164.0px;height:22px;background:#fff;padding-right:3px"><span>42.00 mm</span></div>
<div class="c" style="left:392.5px;top:563px;width:164.5px;height:22px;background:#e7e7e7;padding-right:3px"><span>Size B</span></div>
<div class="c" style="left:559px;top:563px;width:164.5px;height:22px;background:#fff;padding-right:3px"><span>21.00 mm</span></div>
<div class="c" style="left:60.5px;top:587px;width:164.0px;height:22px;background:#e7e7e7;padding-right:3px"><span>Size C</span></div>
<div class="c" style="left:226.5px;top:587px;width:164.0px;height:22px;background:#fff;padding-right:3px"><span>46.50 mm</span></div>
<div class="c" style="left:392.5px;top:587px;width:164.5px;height:22px;background:#e7e7e7;padding-right:3px"><span>G</span></div>
<div class="c" style="left:559px;top:587px;width:164.5px;height:22px;background:#fff;padding-right:3px"><span>6 qty.</span></div>
<div class="c" style="left:60.5px;top:611px;width:164.0px;height:22px;background:#e7e7e7;padding-right:3px"><span>O.D.1</span></div>
<div class="c" style="left:226.5px;top:611px;width:164.0px;height:22px;background:#fff;padding-right:3px"><span>54.50 mm</span></div>
<div class="c" style="left:392.5px;top:611px;width:164.5px;height:22px;background:#e7e7e7;padding-right:3px"><span>Pulley</span></div>
<div class="c" style="left:559px;top:611px;width:164.5px;height:22px;background:#fff;padding-right:5.6px"><span>AFP</span></div>
<div class="c" style="left:60.5px;top:635px;width:164.0px;height:22px;background:#e7e7e7;padding-right:3px"><span>D.1</span></div>
<div class="c" style="left:226.5px;top:635px;width:164.0px;height:22px;background:#fff;padding-right:3px"><span>11.00 mm</span></div>
<div class="c" style="left:392.5px;top:635px;width:164.5px;height:22px;background:#e7e7e7;padding-right:3px"><span>D.2</span></div>
<div class="c" style="left:559px;top:635px;width:164.5px;height:22px;background:#fff;padding-right:3px"><span>11.00 mm</span></div>
<div class="c" style="left:60.5px;top:659px;width:164.0px;height:22px;background:#e7e7e7;padding-right:3px"><span>D.3</span></div>
<div class="c" style="left:226.5px;top:659px;width:164.0px;height:22px;background:#fff;padding-right:3px"><span>M10x1.5 mm</span></div>
<div class="c" style="left:392.5px;top:659px;width:164.5px;height:22px;background:#e7e7e7;padding-right:3px"><span>D.4</span></div>
<div class="c" style="left:559px;top:659px;width:164.5px;height:22px;background:#fff;padding-right:3px"><span>M10x1.5 mm</span></div>
<div class="c" style="left:60.5px;top:683px;width:164.0px;height:22px;background:#e7e7e7;padding-right:3px"><span>L.1</span></div>
<div class="c" style="left:226.5px;top:683px;width:164.0px;height:22px;background:#fff;padding-right:3px"><span>173.00 mm</span></div>
<div class="c" style="left:392.5px;top:683px;width:164.5px;height:22px;background:#e7e7e7;padding-right:3px"><span>Plug</span></div>
<div class="c" style="left:559px;top:683px;width:164.5px;height:22px;background:#fff;padding-right:5.6px"><span>PL_2305</span></div>
<div class="c" style="left:60.5px;top:707px;width:164.0px;height:22px;background:#e7e7e7;padding-right:3px"><span>COM ID</span></div>
<div class="c" style="left:226.5px;top:707px;width:164.0px;height:22px;background:#fff;padding-right:4.7px"><span>88</span></div>
<div class="c" style="left:392.5px;top:707px;width:164.5px;height:22px;background:#e7e7e7;padding-right:3px"><span></span></div>
<div class="c" style="left:559px;top:707px;width:164.5px;height:22px;background:#fff;padding-right:3px"><span></span></div>
<div class="t" style="left:84px;top:483.7px;letter-spacing:-0.23px">AS index: <b>A0284</b></div>
<div class="t" style="left:84.6px;top:508px;color:#d3202e;font-weight:bold;-webkit-text-stroke:0;font-size:11.6px;letter-spacing:-0.4px">STANDARD LINE</div>
<div class="t" style="left:323.6px;top:483.7px;letter-spacing:-0.1px">Brand new AS-PL Alternator</div>
<div class="t" style="left:323.6px;top:509.5px;letter-spacing:-0.28px">Product type: <b>Brand new</b></div>
<div class="t" style="left:638.6px;top:483.5px;letter-spacing:-0.39px">Producer: <b>AS-PL</b></div>
<div class="t" style="left:768.7px;top:602px;color:#d3202e;font-weight:bold;-webkit-text-stroke:0;font-size:11.6px;letter-spacing:-0.4px">PL_2305</div>
</body></html>
